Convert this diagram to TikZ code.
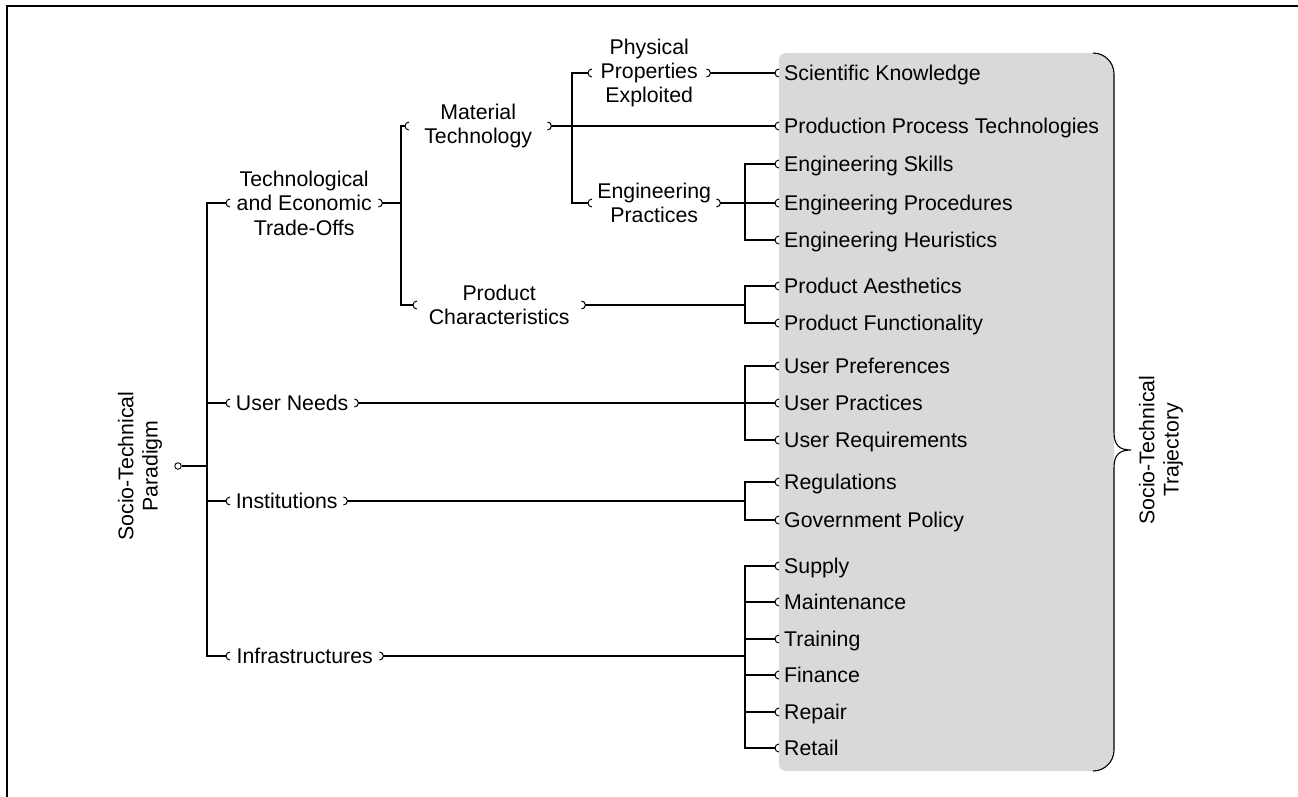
\documentclass[tikz,border=0pt]{standalone}
\usepackage{fontspec}
\setmainfont{Liberation Sans}
\definecolor{boxgray}{RGB}{217,217,217}
\begin{document}
\begin{tikzpicture}[x=1pt,y=-1pt,
  conn/.style={line width=1.1pt,black},
  mk/.style={line width=1pt,black},
  txt/.style={font=\fontsize{21.3}{24.4}\selectfont},
  item/.style={txt,anchor=west,inner xsep=9pt,inner ysep=0pt,text height=15pt,text depth=0pt},
  br/.style={txt,anchor=west,align=center,inner xsep=0pt,inner ysep=0pt},
  brs/.style={br,text height=15pt,text depth=0pt},
  rot/.style={txt,align=center,rotate=90,inner sep=0pt}]
\useasboundingbox (0,0) rectangle (1298,796);
\fill[white] (0,0) rectangle (1298,796);
% frame
\draw[line width=2pt] (7,800) -- (7,6) -- (1302,6);
% grey trajectory box
\fill[boxgray] (786,53) -- (1093,53) arc[start angle=90,end angle=0,radius=21pt]
  -- (1114,750) arc[start angle=0,end angle=-90,radius=21pt]
  -- (786,771) arc[start angle=270,end angle=180,radius=7pt]
  -- (779,60) arc[start angle=180,end angle=90,radius=7pt] -- cycle;
\draw[line width=1.1pt] (1093,53) arc[start angle=90,end angle=0,radius=21pt]
  -- (1114,432) .. controls (1114,445) and (1119,450) .. (1131,450)
  .. controls (1119,450) and (1114,455) .. (1114,468)
  -- (1114,750) arc[start angle=0,end angle=-90,radius=21pt];
% bus coordinates
\coordinate (bus1) at (207,0);
\coordinate (bus2) at (401,0);
\coordinate (bus3) at (572,0);
\coordinate (busR) at (745,0);
% nodes
\node[rot] (par) at (140,466) {Socio-Technical\\Paradigm};
\node[rot] (traj) at (1161,450) {Socio-Technical\\Trajectory};
\node[circle,draw,line width=0.9pt,minimum size=6.5pt,inner sep=0pt] (root) at (178,466) {};

\node[br,minimum width=156pt] (to) at (226,203) {Technological\\and Economic\\Trade-Offs};
\node[br,minimum width=146pt] (mt) at (405,126) {Material\\Technology};
\node[br,minimum width=122pt] (pp) at (588,73) {Physical\\Properties\\Exploited};
\node[br,minimum width=132pt] (ep) at (588,203) {Engineering\\Practices};
\node[br,minimum width=172pt] (pc) at (413,305) {Product\\Characteristics};
\node[brs,minimum width=132pt] (un) at (226,403) {User Needs};
\node[brs,minimum width=121pt] (inst) at (226,501) {Institutions};
\node[brs,minimum width=157pt] (infra) at (226,656) {Infrastructures};

\node[item] (sk) at (775,73) {Scientific Knowledge};
\node[item] (ppt) at (775,126) {Production Process Technologies};
\node[item] (es) at (775,164) {Engineering Skills};
\node[item] (epr) at (775,203) {Engineering Procedures};
\node[item] (eh) at (775,240) {Engineering Heuristics};
\node[item] (pa) at (775,286) {Product Aesthetics};
\node[item] (pf) at (775,323) {Product Functionality};
\node[item] (upf) at (775,366) {User Preferences};
\node[item] (upr) at (775,403) {User Practices};
\node[item] (urq) at (775,440) {User Requirements};
\node[item] (reg) at (775,482) {Regulations};
\node[item] (gov) at (775,520) {Government Policy};
\node[item] (sup) at (775,566) {Supply};
\node[item] (mnt) at (775,602) {Maintenance};
\node[item] (trn) at (775,639) {Training};
\node[item] (fin) at (775,675) {Finance};
\node[item] (rep) at (775,712) {Repair};
\node[item] (ret) at (775,748) {Retail};

% connectors
\foreach \c in {to,un,inst,infra}
  \draw[conn] (root.east) -- (root.east -| bus1) |- (\c.west);
\foreach \c in {mt,pc}
  \draw[conn] (to.east) -- (to.east -| bus2) |- (\c.west);
\foreach \c in {pp,ep}
  \draw[conn] (mt.east) -- (mt.east -| bus3) |- (\c.west);
\draw[conn] (mt.east) -- (ppt.west);
\draw[conn] (pp.east) -- (sk.west);
\foreach \c in {es,epr,eh}
  \draw[conn] (ep.east) -- (ep.east -| busR) |- (\c.west);
\foreach \c in {pa,pf}
  \draw[conn] (pc.east) -- (pc.east -| busR) |- (\c.west);
\foreach \c in {upf,upr,urq}
  \draw[conn] (un.east) -- (un.east -| busR) |- (\c.west);
\foreach \c in {reg,gov}
  \draw[conn] (inst.east) -- (inst.east -| busR) |- (\c.west);
\foreach \c in {sup,mnt,trn,fin,rep,ret}
  \draw[conn] (infra.east) -- (infra.east -| busR) |- (\c.west);

% connection marks
\foreach \n in {to,mt,pp,ep,pc,un,inst,infra,sk,ppt,es,epr,eh,pa,pf,upf,upr,urq,reg,gov,sup,mnt,trn,fin,rep,ret}
  \draw[mk] ([xshift=4pt,yshift=4pt]\n.west) arc[start angle=90,end angle=270,radius=4pt];
\foreach \n in {to,mt,pp,ep,pc,un,inst,infra}
  \draw[mk] ([xshift=-4pt,yshift=4pt]\n.east) arc[start angle=90,end angle=-90,radius=4pt];
\end{tikzpicture}
\end{document}
